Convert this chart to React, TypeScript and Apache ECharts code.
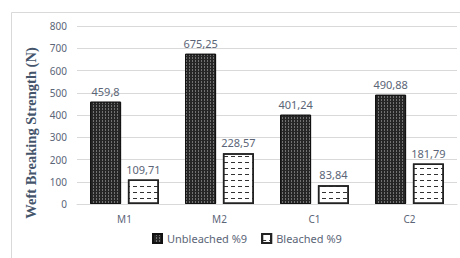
import React, { useEffect, useRef } from "react";
import * as echarts from "echarts";

const categories = ["M1", "M2", "C1", "C2"];
const unbleached = [459.8, 675.25, 401.24, 490.88];
const bleached = [109.71, 228.57, 83.84, 181.79];
const seriesNames = ["Unbleached %9", "Bleached %9"];
const yTitle = "Weft Breaking Strength (N)";

const fmt = (p: any) => String(p.value).replace(".", ",");

export default function App() {
  const ref = useRef<HTMLDivElement>(null);
  useEffect(() => {
    const chart = echarts.init(ref.current!, null, { renderer: "svg" });
    const labelFont = "Noto Sans";
    const txt = "#5b6577";
    chart.setOption({
      animation: false,
      backgroundColor: "#ffffff",
      graphic: [
        {
          type: "rect",
          shape: { x: 11.5, y: 12.5, width: 470, height: 270 },
          style: { fill: "none", stroke: "#d9d9d9", lineWidth: 1 },
          silent: true,
          z: -1,
        },
        {
          type: "text",
          x: 31,
          y: 133,
          rotation: Math.PI / 2,
          style: {
            text: yTitle,
            fill: "#44546a",
            font: "bold 14.5px 'Liberation Serif'",
            align: "center",
            verticalAlign: "middle",
          },
        },
      ],
      grid: { left: 77, right: 3, top: 26, bottom: 54, containLabel: false },
      legend: {
        data: seriesNames,
        bottom: 9,
        left: 147,
        itemWidth: 9,
        itemHeight: 9,
        itemGap: 14,
        icon: "rect",
        textStyle: { color: txt, fontSize: 11, fontFamily: labelFont },
      },
      xAxis: {
        type: "category",
        data: categories,
        axisLine: { lineStyle: { color: "#d9d9d9" } },
        axisTick: { show: false },
        axisLabel: { color: txt, fontSize: 10, fontFamily: labelFont, margin: 10 },
      },
      yAxis: {
        type: "value",
        min: 0,
        max: 800,
        interval: 100,
        axisLine: { show: false },
        axisTick: { show: false },
        splitLine: { lineStyle: { color: "#d9d9d9" } },
        axisLabel: { color: txt, fontSize: 10, fontFamily: labelFont, margin: 10 },
      },
      series: [
        {
          name: seriesNames[0],
          type: "bar",
          data: unbleached,
          barWidth: 31,
          barGap: "22%",
          itemStyle: {
            color: "#262626",
            borderColor: "#111",
            borderWidth: 1,
            decal: {
              symbol: "rect",
              color: "rgba(190,190,190,0.5)",
              dashArrayX: [1, 2],
              dashArrayY: [2, 1],
              symbolSize: 1,
            },
          },
          label: {
            show: true,
            position: "top",
            distance: 5,
            formatter: fmt,
            color: txt,
            fontSize: 11,
            fontFamily: labelFont,
          },
        },
        {
          name: seriesNames[1],
          type: "bar",
          data: bleached,
          barWidth: 31,
          itemStyle: {
            color: "#ffffff",
            borderColor: "#222",
            borderWidth: 1.5,
            decal: {
              symbol: "rect",
              color: "#333",
              backgroundColor: "#ffffff",
              dashArrayX: [[4, 3]],
              dashArrayY: [1, 5],
              symbolSize: 1,
            },
          },
          label: {
            show: true,
            position: "top",
            distance: 5,
            formatter: fmt,
            color: txt,
            fontSize: 11,
            fontFamily: labelFont,
          },
        },
      ],
    });
    return () => chart.dispose();
  }, []);
  return (
    <div
      ref={ref}
      style={{ position: "fixed", left: 0, top: 0, width: 460, height: 258 }}
    />
  );
}
